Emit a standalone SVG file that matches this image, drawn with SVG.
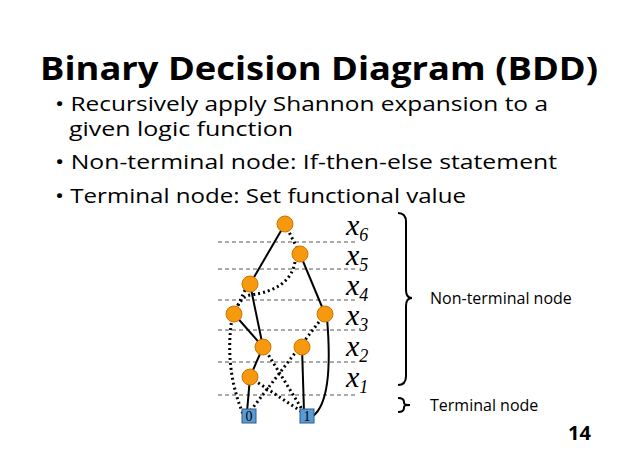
<svg xmlns="http://www.w3.org/2000/svg" width="638" height="452" viewBox="0 0 638 452">
<style>
.t{font-family:"Open Sans","Liberation Sans",sans-serif;fill:#000}
.s{stroke:#000;stroke-width:2;fill:none}
.d{stroke:#000;stroke-width:3;stroke-dasharray:2 3;fill:none}
.g{stroke:#555;stroke-width:1;stroke-dasharray:4 3}
.n{fill:#f7990f;stroke:#c87500;stroke-width:1}
.tm{fill:#5b9bd5;stroke:#2e5c8a;stroke-width:1}
.v{font-family:"Liberation Serif",serif;font-style:italic;font-size:30px}
.sub{font-size:18px}
</style>
<rect width="638" height="452" fill="#fff"/>
<text class="t" x="40" y="80" font-size="32" font-weight="bold" textLength="558" lengthAdjust="spacingAndGlyphs">Binary Decision Diagram (BDD)</text>
<g class="t" font-size="20">
<text x="55" y="111" textLength="493" lengthAdjust="spacingAndGlyphs">• Recursively apply Shannon expansion to a</text>
<text x="69" y="136" textLength="224" lengthAdjust="spacingAndGlyphs">given logic function</text>
<text x="55" y="169" textLength="502" lengthAdjust="spacingAndGlyphs">• Non-terminal node: If-then-else statement</text>
<text x="55" y="203" textLength="411" lengthAdjust="spacingAndGlyphs">• Terminal node: Set functional value</text>
<text x="430" y="304" font-size="16">Non-terminal node</text>
<text x="430" y="411" font-size="16">Terminal node</text>
<text x="568" y="440" font-size="20" font-weight="bold">14</text>
</g>
<g id="grid">
<line class="g" x1="218" y1="242" x2="355" y2="242"/>
<line class="g" x1="218" y1="269" x2="355" y2="269"/>
<line class="g" x1="218" y1="300" x2="355" y2="300"/>
<line class="g" x1="218" y1="330" x2="355" y2="330"/>
<line class="g" x1="218" y1="362" x2="355" y2="362"/>
<line class="g" x1="218" y1="395" x2="355" y2="395"/>
</g>
<g id="labels">
<text class="v" x="346" y="235">x<tspan class="sub" dy="6">6</tspan></text>
<text class="v" x="346" y="265">x<tspan class="sub" dy="6">5</tspan></text>
<text class="v" x="346" y="295">x<tspan class="sub" dy="6">4</tspan></text>
<text class="v" x="346" y="325">x<tspan class="sub" dy="6">3</tspan></text>
<text class="v" x="346" y="356">x<tspan class="sub" dy="6">2</tspan></text>
<text class="v" x="346" y="387">x<tspan class="sub" dy="6">1</tspan></text>
</g>
<g id="braces" class="s" stroke-width="1">
<path d="M398,213 Q406,213 406,222 L406,290 Q406,298 412,298 Q406,298 406,306 L406,376 Q406,385 398,385"/>
<path d="M398,398 Q404,398 404,402 L404,403 Q404,405 410,405 Q404,405 404,407 L404,408 Q404,412 398,412"/>
</g>
<g id="connectors">
<line class="s" x1="285" y1="224" x2="250" y2="284"/>
<path class="d" d="M285,224 L300,254"/>
<line class="s" x1="300" y1="254" x2="325" y2="314"/>
<path class="d" d="M295,262 Q290,290 250,295 Q240,297 234,314"/>
<path class="d" d="M245,290 L234,314"/>
<line class="s" x1="250" y1="284" x2="263" y2="347"/>
<line class="s" x1="234" y1="314" x2="263" y2="347"/>
<path class="d" d="M232,318 Q224,370 244,416"/>
<path class="d" d="M322,318 L248,414"/>
<path class="s" d="M327,318 Q334,400 313,416"/>
<line class="s" x1="263" y1="347" x2="250" y2="377"/>
<path class="d" d="M266,351 L305,414"/>
<line class="s" x1="302" y1="347" x2="304" y2="412"/>
<line class="s" x1="250" y1="377" x2="247" y2="412"/>
<path class="d" d="M254,380 L302,412"/>
</g>
<g id="nodes">
<circle class="n" cx="285" cy="224" r="8"/>
<circle class="n" cx="300" cy="254" r="8"/>
<circle class="n" cx="250" cy="284" r="8"/>
<circle class="n" cx="234" cy="314" r="8"/>
<circle class="n" cx="325" cy="314" r="8"/>
<circle class="n" cx="263" cy="347" r="8"/>
<circle class="n" cx="302" cy="347" r="8"/>
<circle class="n" cx="250" cy="377" r="8"/>
</g>
<g id="t0"><rect class="tm" x="242" y="409" width="14" height="14"/><text x="249" y="421" text-anchor="middle" font-family="Liberation Serif,serif" font-size="14">0</text></g>
<g id="t1"><rect class="tm" x="300" y="409" width="14" height="14"/><text x="307" y="421" text-anchor="middle" font-family="Liberation Serif,serif" font-size="14">1</text></g>
</svg>
